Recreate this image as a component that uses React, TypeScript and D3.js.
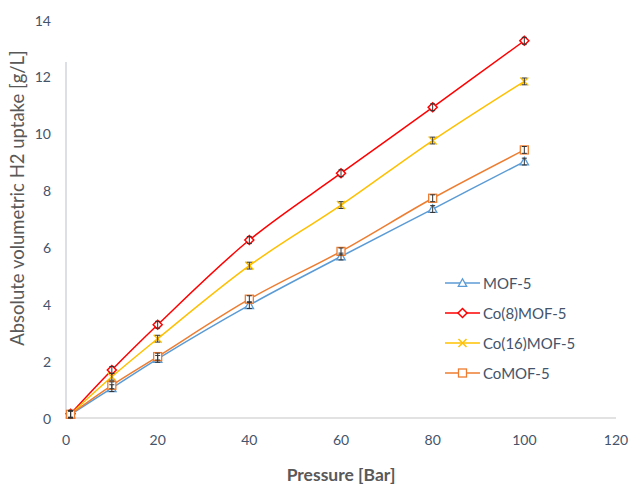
import React from "react";
import * as d3 from "d3";

const pressure = [1, 10, 20, 40, 60, 80, 100];
const mof5 = [0.12, 1.05, 2.08, 3.97, 5.68, 7.35, 9.02];
const co8mof5 = [0.15, 1.69, 3.28, 6.26, 8.61, 10.93, 13.27];
const co16mof5 = [0.13, 1.45, 2.79, 5.36, 7.49, 9.76, 11.84];
const comof5 = [0.13, 1.15, 2.16, 4.18, 5.86, 7.73, 9.43];
const errorBar = [0.12, 0.12, 0.12, 0.12, 0.12, 0.12, 0.12];

const xTicks = [0, 20, 40, 60, 80, 100, 120];
const yTicks = [0, 2, 4, 6, 8, 10, 12, 14];

const seriesNames = ["MOF-5", "Co(8)MOF-5", "Co(16)MOF-5", "CoMOF-5"];
const seriesValues = [mof5, co8mof5, co16mof5, comof5];
const seriesColors = ["#5B9BD5", "#FF0000", "#FFC000", "#ED7D31"];
const seriesMarkers = ["triangle", "diamond", "x", "square"];

const W = 630;
const H = 488;
const plot = { left: 66, right: 616, top: 20, bottom: 418 };
const textColor = "#44546A";
const font = "Lato, 'Open Sans', sans-serif";

function Marker({ type, x, y, color }: { type: string; x: number; y: number; color: string }) {
  if (type === "triangle") {
    const s = 4.2;
    return (
      <path
        d={`M${x},${y - s}L${x + s},${y + s * 0.8}L${x - s},${y + s * 0.8}Z`}
        fill="white"
        stroke={color}
        strokeWidth={1.3}
      />
    );
  }
  if (type === "diamond") {
    const s = 4.5;
    return (
      <path
        d={`M${x},${y - s}L${x + s},${y}L${x},${y + s}L${x - s},${y}Z`}
        fill="white"
        stroke={color}
        strokeWidth={1.5}
      />
    );
  }
  if (type === "square") {
    const s = 4;
    return <rect x={x - s} y={y - s} width={2 * s} height={2 * s} fill="white" stroke={color} strokeWidth={1.3} />;
  }
  const s = 4;
  return (
    <path
      d={`M${x - s},${y - s}L${x + s},${y + s}M${x - s},${y + s}L${x + s},${y - s}`}
      stroke={color}
      strokeWidth={1.5}
      fill="none"
    />
  );
}

export default function App() {
  const x = d3.scaleLinear().domain([0, 120]).range([plot.left, plot.right]);
  const y = d3.scaleLinear().domain([0, 14]).range([plot.bottom, plot.top]);

  const line = d3
    .line<[number, number]>()
    .x((d) => x(d[0]))
    .y((d) => y(d[1]))
    .curve(d3.curveCatmullRom.alpha(0.5));

  const legendX = 445;
  const legendY = 283;
  const legendStep = 30;

  return (
    <svg width={W} height={H} style={{ position: "absolute", left: 0, top: 0, background: "white" }}>
      <rect width={W} height={H} fill="white" />
      {/* axes */}
      <line x1={plot.left} x2={plot.left} y1={plot.top + 42} y2={plot.bottom} stroke="#D0D5DE" strokeWidth={1.5} />
      <line x1={plot.left} x2={plot.right} y1={plot.bottom} y2={plot.bottom} stroke="#D9D9D9" strokeWidth={1.5} />

      {yTicks.map((t) => (
        <text
          key={"y" + t}
          x={51}
          y={y(t)}
          textAnchor="end"
          dominantBaseline="central"
          fontFamily={font}
          fontSize={14}
          fill={textColor}
        >
          {t}
        </text>
      ))}
      {xTicks.map((t) => (
        <text
          key={"x" + t}
          x={x(t)}
          y={439}
          textAnchor="middle"
          dominantBaseline="central"
          fontFamily={font}
          fontSize={14}
          fill={textColor}
        >
          {t}
        </text>
      ))}

      <text
        x={(plot.left + plot.right) / 2}
        y={481}
        textAnchor="middle"
        fontFamily={font}
        fontWeight="bold"
        fontSize={17.5}
        fill="#595959"
      >
        Pressure [Bar]
      </text>
      <text
        transform={`translate(24,198) rotate(-90)`}
        textAnchor="middle"
        fontFamily={font}
        fontSize={18.5}
        fill="#595959"
      >
        Absolute volumetric H2 uptake [g/L]
      </text>

      {/* series lines */}
      {seriesValues.map((vals, i) => (
        <path
          key={"l" + i}
          d={line(pressure.map((p, j) => [p, vals[j]] as [number, number])) || ""}
          fill="none"
          stroke={seriesColors[i]}
          strokeWidth={1.5}
        />
      ))}
      {/* markers */}
      {seriesValues.map((vals, i) =>
        vals.map((v, j) => (
          <Marker key={`m${i}-${j}`} type={seriesMarkers[i]} x={x(pressure[j])} y={y(v)} color={seriesColors[i]} />
        ))
      )}
      {/* error bars */}
      {seriesValues.map((vals, i) =>
        vals.map((v, j) => {
          const cx = x(pressure[j]);
          const y1 = y(v + errorBar[j]);
          const y2 = y(v - errorBar[j]);
          return (
            <path
              key={`e${i}-${j}`}
              d={`M${cx},${y1}L${cx},${y2}M${cx - 2.5},${y1}L${cx + 2.5},${y1}M${cx - 2.5},${y2}L${cx + 2.5},${y2}`}
              stroke="#333333"
              strokeWidth={1}
              fill="none"
            />
          );
        })
      )}

      {/* legend */}
      {seriesNames.map((name, i) => {
        const ly = legendY + i * legendStep;
        return (
          <g key={"lg" + i}>
            <line x1={legendX} x2={legendX + 35} y1={ly} y2={ly} stroke={seriesColors[i]} strokeWidth={1.5} />
            <Marker type={seriesMarkers[i]} x={legendX + 17.5} y={ly} color={seriesColors[i]} />
            <text
              x={legendX + 38}
              y={ly}
              dominantBaseline="central"
              fontFamily={font}
              fontSize={15}
              fill={textColor}
            >
              {name}
            </text>
          </g>
        );
      })}
    </svg>
  );
}
